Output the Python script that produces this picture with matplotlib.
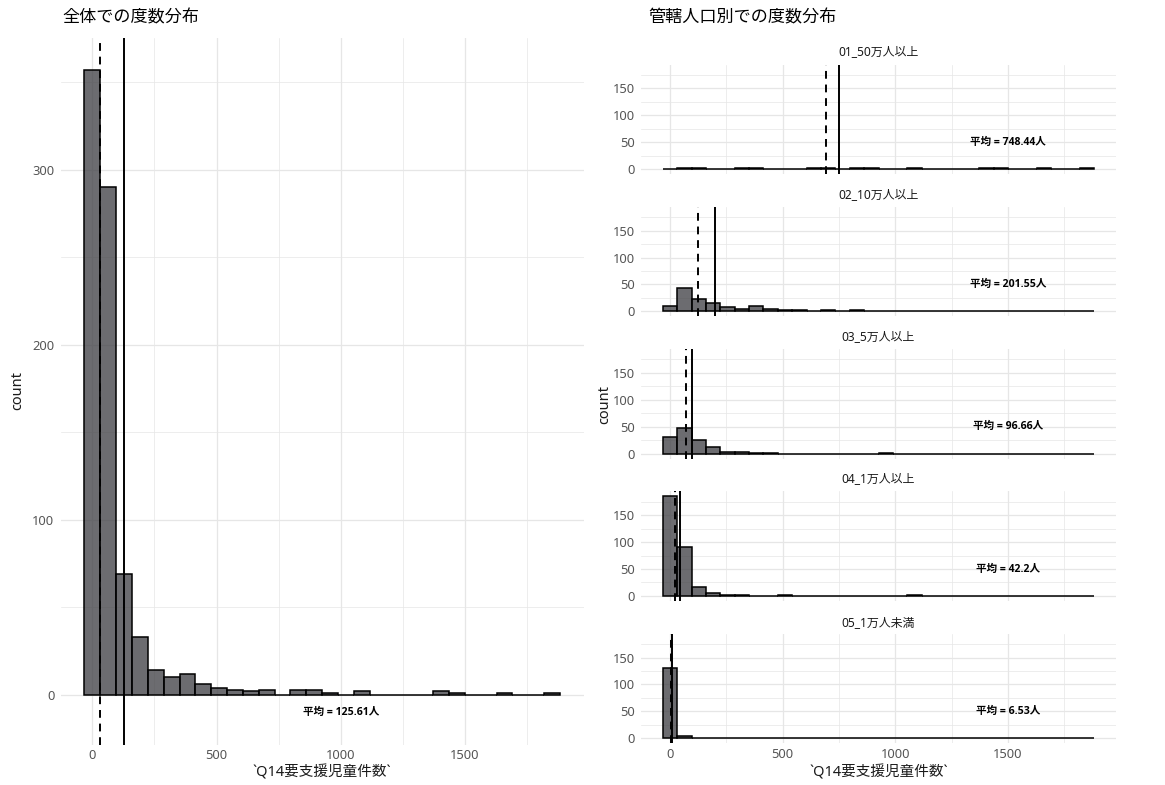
import numpy as np
import matplotlib
matplotlib.use("Agg")
import matplotlib.pyplot as plt
from matplotlib.ticker import MultipleLocator

plt.rcParams['font.family'] = ['Noto Sans', 'Noto Sans CJK JP', 'DejaVu Sans']
LABEL_FAMILY = ['Open Sans', 'Noto Sans CJK JP', 'DejaVu Sans']

# ---- data -------------------------------------------------------------
BIN_WIDTH = 63.8                     # histogram bin width (30 bins, centred on 0)
n_bins = 30

all_counts = [357, 290, 69, 33, 14, 10, 12, 6, 4, 3, 2, 3, 0, 3, 3,
              1, 0, 2, 0, 0, 0, 0, 2, 1, 0, 0, 1, 0, 0, 1]
all_mean = 125.61
all_median = 31

groups = ["01_50万人以上", "02_10万人以上", "03_5万人以上", "04_1万人以上", "05_1万人未満"]
counts_50man = [0, 2, 2, 0, 0, 1, 1, 0, 0, 0, 2, 1, 0, 1, 2,
                0, 0, 1, 0, 0, 0, 0, 1, 1, 0, 0, 1, 0, 0, 1]
counts_10man = [10, 44, 22, 15, 8, 5, 10, 5, 3, 3, 0, 2, 0, 2, 1,
                0, 0, 0, 0, 0, 0, 0, 1, 0, 0, 0, 0, 0, 0, 0]
counts_5man = [30, 48, 26, 13, 3, 3, 1, 1, 0, 0, 0, 0, 0, 0, 0,
               1, 0, 0, 0, 0, 0, 0, 0, 0, 0, 0, 0, 0, 0, 0]
counts_1man = [185, 90, 17, 6, 2, 1, 0, 0, 1, 0, 0, 0, 0, 0, 0,
               0, 0, 1, 0, 0, 0, 0, 0, 0, 0, 0, 0, 0, 0, 0]
counts_under1man = [131, 4, 0, 0, 0, 0, 0, 0, 0, 0, 0, 0, 0, 0, 0,
                    0, 0, 0, 0, 0, 0, 0, 0, 0, 0, 0, 0, 0, 0, 0]
group_counts = [counts_50man, counts_10man, counts_5man, counts_1man, counts_under1man]
group_means = [748.44, 201.55, 96.66, 42.2, 6.53]
group_medians = [690, 125, 71, 22, 4]

x_title = "`Q14要支援児童件数`"
left_title = "全体での度数分布"
right_title = "管轄人口別での度数分布"

# ---- styling ----------------------------------------------------------
W, H = 1165, 785
BAR_FACE = (0.23, 0.23, 0.25, 0.75)
GRID = "#E6E6E6"
TICK_COLOR = "#555555"
bin_centers = np.arange(n_bins) * BIN_WIDTH


def fig_xy(x, y):
    return x / W, 1 - y / H


def axes_rect(left, top, right, bottom):
    return [left / W, 1 - bottom / H, (right - left) / W, (bottom - top) / H]


def expanded(lo, hi, mult=0.05):
    r = hi - lo
    return lo - mult * r, hi + mult * r


def style_axes(ax, xmaj, ymaj):
    for s in ax.spines.values():
        s.set_visible(False)
    ax.set_axisbelow(True)
    ax.xaxis.set_major_locator(MultipleLocator(xmaj))
    ax.xaxis.set_minor_locator(MultipleLocator(xmaj / 2))
    ax.yaxis.set_major_locator(MultipleLocator(ymaj))
    ax.yaxis.set_minor_locator(MultipleLocator(ymaj / 2))
    ax.grid(which="major", color=GRID, linewidth=0.9)
    ax.grid(which="minor", color=GRID, linewidth=0.5)
    ax.tick_params(which="both", length=0, labelsize=9.3, labelcolor=TICK_COLOR)
    ax.tick_params(axis="y", pad=4.5)
    ax.tick_params(axis="x", pad=3.5)


def draw_hist(ax, counts, mean, median):
    ax.bar(bin_centers, counts, width=BIN_WIDTH, facecolor=BAR_FACE,
           edgecolor="black", linewidth=1.1, zorder=2)
    ax.axvline(median, color="black", linewidth=1.4, linestyle=(0, (4, 3)), zorder=3)
    ax.axvline(mean, color="black", linewidth=1.4, zorder=3)


def mean_label(ax, x, y, mean):
    ax.text(x, y, f"平均 = {mean:g}人", ha="center", va="center",
            fontsize=7.6, fontweight="bold", color="black", zorder=4,
            family=LABEL_FAMILY)


fig = plt.figure(figsize=(W / 100, H / 100), dpi=100)

x_lo = bin_centers[0] - BIN_WIDTH / 2
x_hi = bin_centers[-1] + BIN_WIDTH / 2

# ---- overall histogram -----------------------------------------------
ax0 = fig.add_axes(axes_rect(60.6, 38, 583.8, 744.6))
style_axes(ax0, 500, 100)
draw_hist(ax0, all_counts, all_mean, all_median)
label_y_all = -10
mean_label(ax0, 1000, label_y_all, all_mean)
ax0.set_xlim(*expanded(x_lo, x_hi))
ax0.set_ylim(*expanded(min(0, label_y_all), max(all_counts)))
ax0.set_xticks([0, 500, 1000, 1500])

fig.text(*fig_xy(62, 18), left_title, ha="left", va="center", fontsize=12.3, color="black")
fig.text(*fig_xy(18, 391), "count", rotation=90, ha="center", va="center",
         fontsize=10.5, color="#1A1A1A")
fig.text(*fig_xy(322, 773), x_title, ha="center", va="center", fontsize=10.5, color="#1A1A1A")

# ---- histograms by jurisdiction population ---------------------------
y_top = max(max(c) for c in group_counts)
panel_left, panel_right = 641.3, 1115.7
panel_h, panel_step, first_top = 109.5, 142.3, 64.5
for k, (name, counts, mean, median) in enumerate(zip(groups, group_counts,
                                                     group_means, group_medians)):
    top = first_top + panel_step * k
    ax = fig.add_axes(axes_rect(panel_left, top, panel_right, top + panel_h))
    style_axes(ax, 500, 50)
    draw_hist(ax, counts, mean, median)
    mean_label(ax, 1500, 50, mean)
    ax.set_xlim(*expanded(x_lo, x_hi))
    ax.set_ylim(*expanded(0, y_top))
    ax.set_xticks([0, 500, 1000, 1500])
    ax.set_yticks([0, 50, 100, 150])
    if k < len(groups) - 1:
        ax.tick_params(axis="x", labelbottom=False)
    fig.text(*fig_xy((panel_left + panel_right) / 2, top - 11.5), name,
             ha="center", va="center", fontsize=8.6, color="#1A1A1A")

fig.text(*fig_xy(648, 18), right_title, ha="left", va="center", fontsize=12.3, color="black")
fig.text(*fig_xy(605, 404), "count", rotation=90, ha="center", va="center",
         fontsize=10.5, color="#1A1A1A")
fig.text(*fig_xy((panel_left + panel_right) / 2, 773), x_title, ha="center", va="center",
         fontsize=10.5, color="#1A1A1A")

fig.savefig("out.png", dpi=100, facecolor="white")
